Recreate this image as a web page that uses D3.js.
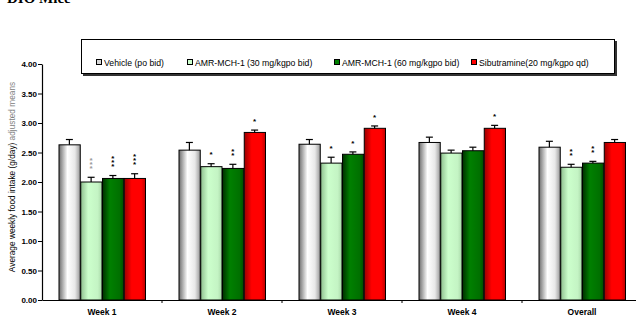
<!DOCTYPE html>
<html lang="en">
<head>
<meta charset="UTF-8">
<title>DIO Mice - weekly food intake</title>
<script src="https://d3js.org/d3.v7.min.js"></script>
<style>
    body { margin: 0; background: #fff; }
    svg { display: block; font-family: "Liberation Sans", Arial, sans-serif; }
</style>
</head>
<body>
<svg width="636" height="322"></svg>
<script>
    // data
    var categories = ['Week 1', 'Week 2', 'Week 3', 'Week 4', 'Overall'];
    var seriesNames = ['Vehicle (po bid)', 'AMR-MCH-1 (30 mg/kgpo bid)', 'AMR-MCH-1 (60 mg/kgpo bid)', 'Sibutramine(20 mg/kgpo qd)'];

    var vehicle    = [2.63, 2.54, 2.64, 2.67, 2.59];
    var vehicleErr = [0.09, 0.13, 0.08, 0.09, 0.10];
    var mch30      = [2.00, 2.26, 2.32, 2.49, 2.25];
    var mch30Err   = [0.08, 0.05, 0.10, 0.05, 0.05];
    var mch60      = [2.06, 2.23, 2.47, 2.53, 2.32];
    var mch60Err   = [0.05, 0.07, 0.04, 0.06, 0.03];
    var sibu       = [2.06, 2.84, 2.91, 2.91, 2.67];
    var sibuErr    = [0.08, 0.04, 0.04, 0.05, 0.05];

    var vehicleStars = ['', '', '', '', ''];
    var mch30Stars   = ['***', '*', '*', '', '**'];
    var mch60Stars   = ['***', '**', '*', '', '**'];
    var sibuStars    = ['***', '*', '*', '*', ''];

    var yTicks = [0, 0.5, 1, 1.5, 2, 2.5, 3, 3.5, 4];

    // styling
    var gradStops = [
        [['0%', '#6e6e6e'], ['40%', '#ffffff'], ['75%', '#e8e8e8'], ['100%', '#9a9a9a']],
        [['0%', '#8fbf8f'], ['35%', '#ccffcc'], ['80%', '#c4f4c4'], ['100%', '#a8d8a8']],
        [['0%', '#003000'], ['35%', '#008000'], ['80%', '#007000'], ['100%', '#004d00']],
        [['0%', '#990000'], ['35%', '#ff0000'], ['80%', '#ff0000'], ['100%', '#c00000']]
    ];
    var legendFill = ['#d8d8d8', '#ccffcc', '#008000', '#ff0000'];
    var legendX = [99, 190, 337, 474];
    // only the week 1 stars of the 30 mg group are printed in grey
    function starColor(d) { return (d.s === 1 && d.cat === 'Week 1') ? '#999' : '#000'; }

    var values = [vehicle, mch30, mch60, sibu];
    var errs = [vehicleErr, mch30Err, mch60Err, sibuErr];
    var stars = [vehicleStars, mch30Stars, mch60Stars, sibuStars];

    var rows = [];
    categories.forEach(function(c, ci) {
        seriesNames.forEach(function(s, si) {
            rows.push({cat: c, s: si, v: values[si][ci], e: errs[si][ci], stars: stars[si][ci]});
        });
    });

    var svg = d3.select('svg');

    var defs = svg.append('defs');
    gradStops.forEach(function(st, i) {
        var g = defs.append('linearGradient').attr('id', 'grad' + i)
            .attr('x1', '0%').attr('x2', '100%').attr('y1', '0%').attr('y2', '0%');
        st.forEach(function(p) {
            g.append('stop').attr('offset', p[0]).attr('stop-color', p[1]);
        });
    });

    // scales
    var x = d3.scaleBand().domain(categories).range([42, 642])
        .paddingInner(0.275).paddingOuter(0.1375);
    var x1 = d3.scaleBand().domain(d3.range(seriesNames.length)).range([0, x.bandwidth()]);
    var y = d3.scaleLinear().domain([0, 4]).range([300, 64]);

    // title (mostly cut off at the top of the picture)
    svg.append('text')
        .attr('x', 7).attr('y', 3)
        .style('font-family', '"Liberation Serif", "Times New Roman", serif')
        .style('font-weight', 'bold')
        .style('font-size', '15px')
        .text('DIO Mice');

    // legend
    var lg = svg.append('g');
    lg.append('rect').attr('x', 83).attr('y', 41).attr('width', 534).attr('height', 35).attr('fill', '#333');
    lg.append('rect').attr('x', 81.5).attr('y', 39.5).attr('width', 533).attr('height', 34)
        .attr('fill', '#fff').attr('stroke', '#000').attr('stroke-width', 1);
    seriesNames.forEach(function(s, i) {
        lg.append('rect').attr('x', legendX[i] - 2.5).attr('y', 59.5).attr('width', 5).attr('height', 5)
            .attr('fill', legendFill[i]).attr('stroke', '#000').attr('stroke-width', 1);
        lg.append('text').attr('x', legendX[i] + 5).attr('y', 65.5)
            .style('font-size', '8.7px')
            .text(s);
    });

    // bars
    var bars = svg.append('g').selectAll('g').data(rows).enter().append('g')
        .attr('transform', function(d) { return 'translate(' + (x(d.cat) + x1(d.s)) + ',0)'; });

    bars.append('rect')
        .attr('x', 0.5)
        .attr('y', function(d) { return y(d.v); })
        .attr('width', x1.bandwidth() - 0.5)
        .attr('height', function(d) { return y(0) - y(d.v); })
        .attr('fill', function(d) { return 'url(#grad' + d.s + ')'; })
        .attr('stroke', '#000')
        .attr('stroke-width', 1);

    var bw = x1.bandwidth();
    bars.append('line')
        .attr('x1', bw / 2).attr('x2', bw / 2)
        .attr('y1', function(d) { return y(d.v); })
        .attr('y2', function(d) { return y(d.v + d.e); })
        .attr('stroke', '#000').attr('stroke-width', 1.2);
    bars.append('line')
        .attr('x1', bw / 2 - 3.5).attr('x2', bw / 2 + 3.5)
        .attr('y1', function(d) { return y(d.v + d.e); })
        .attr('y2', function(d) { return y(d.v + d.e); })
        .attr('stroke', '#000').attr('stroke-width', 1.2);

    // significance stars, stacked vertically
    bars.each(function(d) {
        var g = d3.select(this);
        for (var k = 0; k < d.stars.length; k++) {
            g.append('text')
                .attr('x', bw / 2)
                .attr('y', y(d.v + d.e) - 11 - k * 4 + 4.6)
                .attr('text-anchor', 'middle')
                .attr('fill', starColor(d))
                .style('font-size', '8px')
                .style('font-weight', 'bold')
                .text('*');
        }
    });

    // y axis
    var yAxis = svg.append('g').attr('transform', 'translate(42,0)')
        .call(d3.axisLeft(y).tickValues(yTicks).tickFormat(d3.format('.2f')).tickSize(4).tickSizeOuter(0));
    yAxis.select('.domain').attr('stroke', '#000').attr('stroke-width', 1.2);
    yAxis.selectAll('.tick line').attr('stroke', '#000');
    yAxis.selectAll('text').style('font-size', '8px').style('font-weight', 'bold')
        .attr('fill', '#000').attr('x', -5);

    // x axis
    var xAxis = svg.append('g').attr('transform', 'translate(0,300)')
        .call(d3.axisBottom(x).tickSize(0).tickSizeOuter(0).tickPadding(9));
    xAxis.select('.domain').attr('stroke', '#000').attr('stroke-width', 1.2);
    xAxis.selectAll('text').style('font-size', '8.5px').style('font-weight', 'bold').attr('fill', '#000');
    xAxis.selectAll('.bound').data(categories).enter().append('line')
        .attr('class', 'bound')
        .attr('x1', function(c) { return x(c) + x.bandwidth() + (x.step() - x.bandwidth()) / 2; })
        .attr('x2', function(c) { return x(c) + x.bandwidth() + (x.step() - x.bandwidth()) / 2; })
        .attr('y1', 0).attr('y2', 3)
        .attr('stroke', '#000');

    // y axis title
    var yt = svg.append('text')
        .attr('transform', 'translate(15,177) rotate(-90)')
        .attr('text-anchor', 'middle')
        .style('font-size', '8.3px');
    yt.append('tspan').attr('fill', '#000').text('Average weekly food intake (g/day) ');
    yt.append('tspan').attr('fill', '#808080').text('adjusted means');
</script>
</body>
</html>
